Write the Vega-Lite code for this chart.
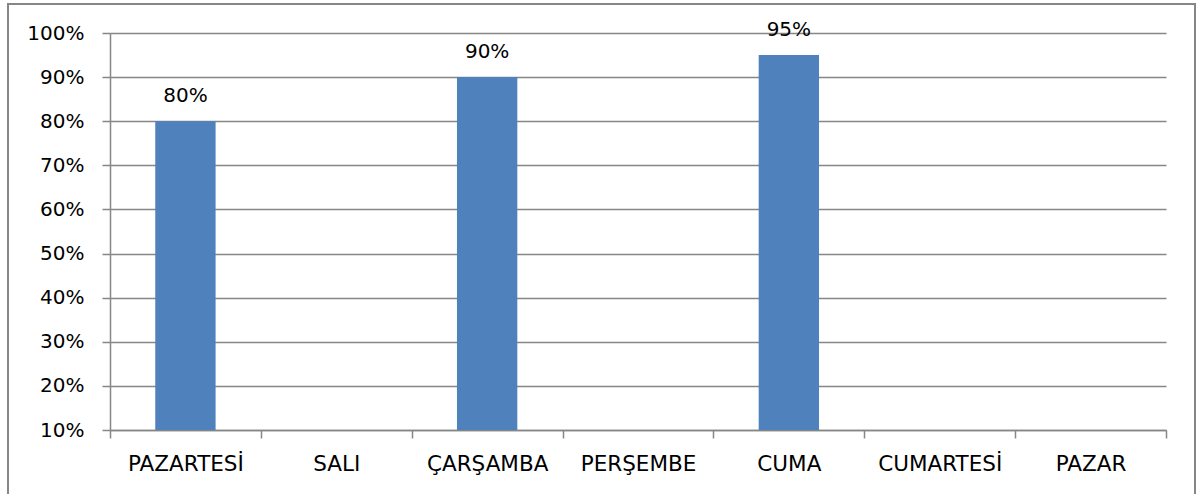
{
  "$schema": "https://vega.github.io/schema/vega-lite/v6.json",
  "autosize": {"type": "none"},
  "padding": {"left": 8, "top": 4, "right": 3, "bottom": 0},
  "width": 1187,
  "height": 491,
  "background": "white",
  "view": {"stroke": "#868686", "strokeWidth": 2, "fill": "white"},
  "data": {
    "values": [
      {"gun": "PAZARTESİ", "oran": 0.80},
      {"gun": "SALI", "oran": null},
      {"gun": "ÇARŞAMBA", "oran": 0.90},
      {"gun": "PERŞEMBE", "oran": null},
      {"gun": "CUMA", "oran": 0.95},
      {"gun": "CUMARTESİ", "oran": null},
      {"gun": "PAZAR", "oran": null}
    ]
  },
  "encoding": {
    "x": {
      "field": "gun",
      "type": "nominal",
      "sort": null,
      "title": null,
      "scale": {
        "domain": ["PAZARTESİ", "SALI", "ÇARŞAMBA", "PERŞEMBE", "CUMA", "CUMARTESİ", "PAZAR"],
        "range": [102, 1158],
        "paddingInner": 0,
        "paddingOuter": 0
      },
      "axis": {
        "orient": "bottom",
        "offset": -65,
        "tickBand": "extent",
        "grid": false,
        "domainColor": "#868686",
        "domainWidth": 1.5,
        "tickColor": "#868686",
        "tickWidth": 1.5,
        "tickSize": 8,
        "labelAngle": 0,
        "labelFont": "DejaVu Sans",
        "labelFontSize": 21.5,
        "labelColor": "#000000",
        "labelPadding": 15
      }
    }
  },
  "layer": [
    {
      "mark": {"type": "bar", "color": "#4F81BD", "width": {"band": 0.4}},
      "encoding": {
        "y": {
          "field": "oran",
          "type": "quantitative",
          "title": null,
          "scale": {"domain": [0.1, 1], "range": [426, 29], "nice": false, "zero": false},
          "axis": {
            "orient": "left",
            "offset": -102,
            "values": [0.1, 0.2, 0.3, 0.4, 0.5, 0.6, 0.7, 0.8, 0.9, 1.0],
            "format": ".0%",
            "grid": true,
            "gridColor": "#868686",
            "gridWidth": 1.5,
            "domainColor": "#868686",
            "domainWidth": 1.5,
            "tickColor": "#868686",
            "tickWidth": 1.5,
            "tickSize": 8,
            "labelFont": "DejaVu Sans",
            "labelFontSize": 20,
            "labelColor": "#000000",
            "labelPadding": 18
          }
        },
        "y2": {"datum": 0.1}
      }
    },
    {
      "mark": {
        "type": "text",
        "font": "DejaVu Sans",
        "fontSize": 20,
        "color": "#000000",
        "baseline": "alphabetic",
        "align": "center",
        "dy": -19
      },
      "encoding": {
        "y": {"field": "oran", "type": "quantitative"},
        "text": {"field": "oran", "type": "quantitative", "format": ".0%"}
      }
    }
  ]
}
